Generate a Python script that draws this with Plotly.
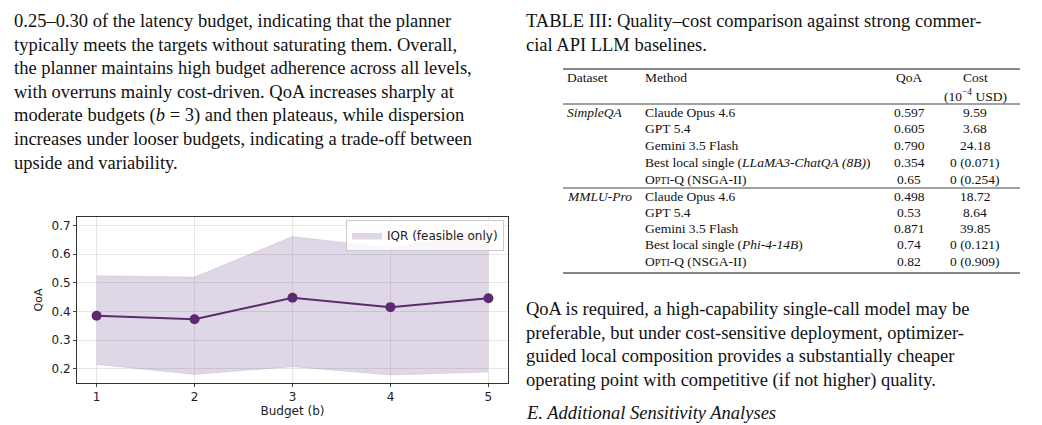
import plotly.graph_objects as go

budgets = [1, 2, 3, 4, 5]
median_qoa = [0.385, 0.373, 0.448, 0.415, 0.446]
iqr_upper = [0.525, 0.520, 0.662, 0.622, 0.680]
iqr_lower = [0.215, 0.180, 0.207, 0.178, 0.188]
x_ticks = [1, 2, 3, 4, 5]
y_ticks = [0.2, 0.3, 0.4, 0.5, 0.6, 0.7]

W, H = 1042, 425
def px(x): return x / W
def py(y): return 1 - y / H

fig = go.Figure()
fig.add_trace(go.Scatter(x=budgets, y=iqr_lower, mode="lines", line=dict(width=0.6, color="rgba(150,120,170,0.3)"),
                         showlegend=False, hoverinfo="skip"))
fig.add_trace(go.Scatter(x=budgets, y=iqr_upper, mode="lines", fill="tonexty",
                         fillcolor="rgba(110,70,140,0.22)", line=dict(width=0.6, color="rgba(150,120,170,0.3)"),
                         name="IQR (feasible only)"))
fig.add_trace(go.Scatter(x=budgets, y=median_qoa, mode="lines+markers",
                         line=dict(color="#5c2a6e", width=2), marker=dict(size=10, color="#5c2a6e"),
                         showlegend=False))

axfont = dict(family="DejaVu Sans", size=12, color="#222")
fig.update_layout(
    width=W, height=H, margin=dict(l=0, r=0, t=0, b=0),
    paper_bgcolor="white", plot_bgcolor="white",
    xaxis=dict(domain=[px(69), px(500)], range=[0.8, 5.2], tickvals=x_ticks, showgrid=True,
               gridcolor="#e6e6e6", showline=True, linecolor="#333", mirror=True, ticks="outside",
               ticklen=3, tickfont=axfont, title=dict(text="Budget (b)", font=axfont, standoff=2), zeroline=False),
    yaxis=dict(domain=[py(375), py(209)], range=[0.15, 0.73], tickvals=y_ticks, tickformat=".1f",
               showgrid=True, gridcolor="#e6e6e6", showline=True, linecolor="#333", mirror=True,
               ticks="outside", ticklen=3, tickfont=axfont,
               title=dict(text="QoA", font=dict(family="DejaVu Sans", size=11, color="#222"), standoff=6), zeroline=False),
    legend=dict(x=px(496), y=py(212), xanchor="right", yanchor="top", bgcolor="rgba(255,255,255,0.8)",
                bordercolor="#ccc", borderwidth=1, font=dict(family="DejaVu Sans", size=12, color="#222")),
)

def text(x, y, s, size=19, xanchor="left", italic=False):
    if italic:
        s = "<i>" + s + "</i>"
    fig.add_annotation(x=px(x), y=py(y), xref="paper", yref="paper", text=s, showarrow=False,
                       xanchor=xanchor, yanchor="middle", font=dict(family="Liberation Serif", size=size, color="#111"))

left_lines = [
    "0.25–0.30 of the latency budget, indicating that the planner",
    "typically meets the targets without saturating them. Overall,",
    "the planner maintains high budget adherence across all levels,",
    "with overruns mainly cost-driven. QoA increases sharply at",
    "moderate budgets (<i>b</i> = 3) and then plateaus, while dispersion",
    "increases under looser budgets, indicating a trade-off between",
    "upside and variability.",
]
for i, s in enumerate(left_lines):
    text(4, 13 + i * 23.7, s, 18.5)

text(516, 13, "TABLE III: Quality–cost comparison against strong commer-", 18.5)
text(516, 37, "cial API LLM baselines.", 18.5)

sc = lambda s: s[0] + "<span style='font-size:10px'>" + s[1:] + "</span>"
opti = sc("OPTI") + "-Q (NSGA-II)"
datasets = ["<i>SimpleQA</i>", "", "", "", "", "<i>MMLU-Pro</i>", "", "", "", ""]
methods = ["Claude Opus 4.6", "GPT 5.4", "Gemini 3.5 Flash",
           "Best local single (<i>LLaMA3-ChatQA (8B)</i>)", opti,
           "Claude Opus 4.6", "GPT 5.4", "Gemini 3.5 Flash",
           "Best local single (<i>Phi-4-14B</i>)", opti]
qoa = ["0.597", "0.605", "0.790", "0.354", "0.65", "0.498", "0.53", "0.871", "0.74", "0.82"]
cost = ["9.59", "3.68", "24.18", "0 (0.071)", "0 (0.254)", "18.72", "8.64", "39.85", "0 (0.121)", "0 (0.909)"]

ts = 13.5
text(557, 69, "Dataset", ts)
text(635, 69, "Method", ts)
text(901, 69, "QoA", ts, "center")
text(967, 69, "Cost", ts, "center")
text(967, 87, "(10<sup>−4</sup> USD)", ts, "center")
for i in range(10):
    y = 104 + i * 16.9 if i < 5 else 188 + (i - 5) * 16.3
    text(557, y, datasets[i], ts)
    text(635, y, methods[i], ts)
    text(901, y, qoa[i], ts, "center")
    text(967, y, cost[i], ts, "center")

for y, w in [(61, 1.2), (96, 0.8), (180, 0.8), (265, 1.2)]:
    fig.add_shape(type="line", xref="paper", yref="paper", x0=px(555), x1=px(1012), y0=py(y), y1=py(y),
                  line=dict(color="#111", width=w))

right_lines = [
    "QoA is required, a high-capability single-call model may be",
    "preferable, but under cost-sensitive deployment, optimizer-",
    "guided local composition provides a substantially cheaper",
    "operating point with competitive (if not higher) quality.",
]
for i, s in enumerate(right_lines):
    text(516, 301 + i * 23.7, s, 18.5)
text(516, 405, "E. Additional Sensitivity Analyses", 18.5, italic=True)

fig.write_html("out.html")
